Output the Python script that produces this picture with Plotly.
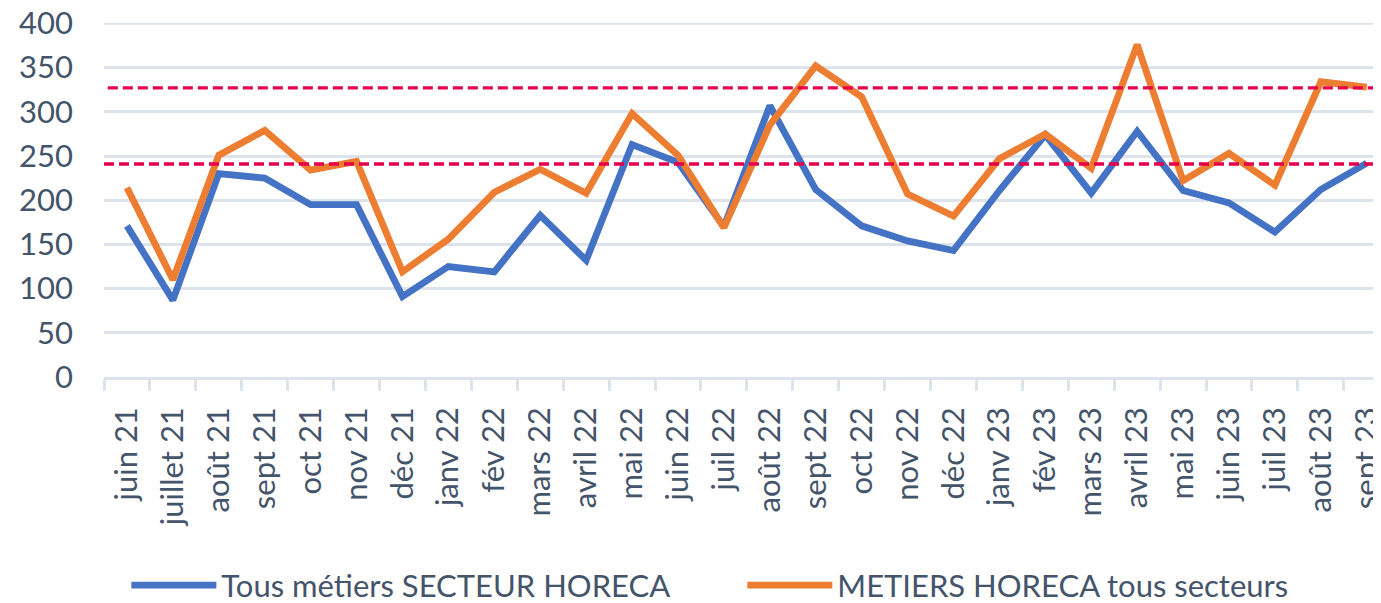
import plotly.graph_objects as go

months = ["juin 21", "juillet 21", "août 21", "sept 21", "oct 21", "nov 21", "déc 21",
          "janv 22", "fév 22", "mars 22", "avril 22", "mai 22", "juin 22", "juil 22",
          "août 22", "sept 22", "oct 22", "nov 22", "déc 22", "janv 23", "fév 23",
          "mars 23", "avril 23", "mai 23", "juin 23", "juil 23", "août 23", "sept 23"]

secteur_horeca = [171, 87, 230, 225, 195, 195, 91, 125, 119, 183, 132, 263, 243, 170,
                  307, 212, 171, 154, 143, 211, 274, 208, 278, 211, 197, 164, 212, 242]

metiers_horeca = [214, 110, 251, 279, 234, 244, 119, 156, 209, 235, 208, 298, 251, 169,
                  285, 352, 317, 207, 182, 247, 275, 236, 376, 222, 253, 217, 334, 328]

series_names = ["Tous métiers SECTEUR HORECA", "METIERS HORECA tous secteurs"]
thresholds = [327, 241]
y_ticks = [0, 50, 100, 150, 200, 250, 300, 350, 400]
y_max = 400

BLUE = "#4472C4"
ORANGE = "#ED7D31"
RED = "#E6004C"
GRID = "#DDE3EA"
TEXT = "#44546A"
FONT = "Lato, Carlito, 'Open Sans', sans-serif"

fig = go.Figure()
fig.add_trace(go.Scatter(x=months, y=secteur_horeca, mode="lines", name=series_names[0],
                         line=dict(color=BLUE, width=6.8)))
fig.add_trace(go.Scatter(x=months, y=metiers_horeca, mode="lines", name=series_names[1],
                         line=dict(color=ORANGE, width=6.8)))

# top gridline (kept explicitly so it is not dropped at the range edge)
fig.add_shape(type="line", xref="paper", yref="y", x0=0, x1=1, y0=y_max, y1=y_max,
              layer="below", line=dict(color=GRID, width=2.5))

for i, t in enumerate(thresholds):
    fig.add_shape(type="line", xref="paper", yref="y", x0=0.003 if i == 0 else 0, x1=1,
                  y0=t, y1=t, layer="above",
                  line=dict(color=RED, width=3.3, dash="10px,5px"))

fig.update_layout(
    width=1373, height=595,
    margin=dict(l=96, r=0, t=15, b=226, autoexpand=False),
    paper_bgcolor="white", plot_bgcolor="white",
    font=dict(family=FONT, size=31, color=TEXT),
    showlegend=True,
    legend=dict(orientation="h", x=0.0175, y=-0.589, xanchor="left", yanchor="middle",
                font=dict(size=31, color=TEXT), itemwidth=85, entrywidth=516,
                bgcolor="rgba(0,0,0,0)"),
)
fig.update_xaxes(type="category", range=[-0.5, 27.31], tickangle=-90, automargin=False,
                 showgrid=False, showline=True, linecolor=GRID, linewidth=2.5,
                 ticks="outside", tickson="boundaries", ticklen=11, tickwidth=2.5,
                 tickcolor=GRID, tickfont=dict(size=31, color=TEXT),
                 ticklabelstandoff=15, ticklabeloverflow="allow")
fig.update_yaxes(range=[0, y_max + 0.5], tickvals=y_ticks, showgrid=True, gridcolor=GRID,
                 gridwidth=2.5, zeroline=False, showline=False, ticks="", automargin=False,
                 tickfont=dict(size=31, color=TEXT), ticklabelstandoff=30,
                 ticklabeloverflow="allow")

fig.write_html("out.html")
